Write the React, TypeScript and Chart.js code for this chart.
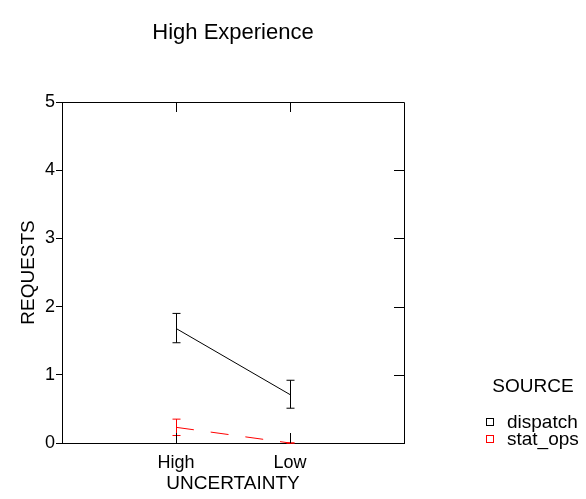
import React, { useEffect, useRef } from "react";
import { Chart, registerables } from "chart.js";

Chart.register(...registerables);

// ---- data ----
const categories = ["High", "Low"];
const categoryPositions = [1, 2];
const dispatchMeans = [1.68, 0.71];
const dispatchLower = [1.47, 0.51];
const dispatchUpper = [1.9, 0.92];
const statOpsMeans = [0.23, 0.0];
const statOpsLower = [0.11, 0.0];
const statOpsUpper = [0.35, 0.0];
const yTickValues = [0, 1, 2, 3, 4, 5];
const seriesNames = ["dispatch", "stat_ops"];
const seriesColors = ["#000000", "#ff0000"];
const chartTitle = "High Experience";
const xTitle = "UNCERTAINTY";
const yTitle = "REQUESTS";
const legendTitle = "SOURCE";

const FONT = "'Liberation Sans', Arial, Helvetica, sans-serif";

const errorBarPlugin = {
  id: "errorBars",
  afterDatasetsDraw(chart: any) {
    const ctx = chart.ctx;
    const xs = chart.scales.x;
    const ys = chart.scales.y;
    chart.data.datasets.forEach((ds: any) => {
      ctx.save();
      ctx.strokeStyle = ds.borderColor;
      ctx.lineWidth = 1;
      ctx.setLineDash([]);
      ds.data.forEach((pt: any, i: number) => {
        const x = Math.round(xs.getPixelForValue(pt.x)) + 0.5;
        const yl = ys.getPixelForValue(ds.errLow[i]);
        const yh = ys.getPixelForValue(ds.errHigh[i]);
        ctx.beginPath();
        ctx.moveTo(x, yl);
        ctx.lineTo(x, yh);
        ctx.moveTo(x - 4, yl);
        ctx.lineTo(x + 4, yl);
        ctx.moveTo(x - 4, yh);
        ctx.lineTo(x + 4, yh);
        ctx.stroke();
      });
      ctx.restore();
    });
  },
};

const decorPlugin = {
  id: "decor",
  afterDraw(chart: any) {
    const ctx = chart.ctx;
    const { left, right, top, bottom } = chart.chartArea;
    const xs = chart.scales.x;
    const ys = chart.scales.y;
    ctx.save();
    ctx.strokeStyle = "#000";
    ctx.lineWidth = 1;
    ctx.setLineDash([]);
    // top and right frame
    ctx.beginPath();
    ctx.moveTo(left, Math.round(top) + 0.5);
    ctx.lineTo(Math.round(right) + 0.5, Math.round(top) + 0.5);
    ctx.lineTo(Math.round(right) + 0.5, bottom);
    ctx.stroke();
    // right inward ticks
    ctx.beginPath();
    yTickValues.forEach((v) => {
      const y = Math.round(ys.getPixelForValue(v)) + 0.5;
      ctx.moveTo(right - 10, y);
      ctx.lineTo(right, y);
    });
    // top/bottom inward ticks
    categoryPositions.forEach((v) => {
      const x = Math.round(xs.getPixelForValue(v)) + 0.5;
      ctx.moveTo(x, top);
      ctx.lineTo(x, top + 10);
      ctx.moveTo(x, bottom - 10);
      ctx.lineTo(x, bottom);
    });
    ctx.stroke();

    // texts
    ctx.fillStyle = "#000";
    const cx = (left + right) / 2;
    ctx.textAlign = "center";
    ctx.textBaseline = "alphabetic";
    ctx.font = `22px ${FONT}`;
    ctx.fillText(chartTitle, cx, 39);
    ctx.font = `19px ${FONT}`;
    ctx.fillText(xTitle, cx, 489);
    ctx.save();
    ctx.translate(34, (top + bottom) / 2);
    ctx.rotate(-Math.PI / 2);
    ctx.fillText(yTitle, 0, 0);
    ctx.restore();

    // legend
    ctx.textAlign = "center";
    ctx.fillText(legendTitle, 533, 392);
    ctx.textAlign = "left";
    seriesNames.forEach((name, i) => {
      const y = 428 + i * 17;
      ctx.strokeStyle = seriesColors[i];
      ctx.strokeRect(486.5, y - 9.5, 7, 7);
      ctx.fillStyle = "#000";
      ctx.fillText(name, 507, y);
    });
    ctx.restore();
  },
};

export default function App() {
  const ref = useRef<HTMLCanvasElement | null>(null);
  useEffect(() => {
    if (!ref.current) return;
    const toPts = (vals: number[]) =>
      vals.map((v, i) => ({ x: categoryPositions[i], y: v }));
    const chart = new Chart(ref.current, {
      type: "line",
      data: {
        datasets: [
          {
            label: seriesNames[0],
            data: toPts(dispatchMeans),
            borderColor: seriesColors[0],
            backgroundColor: seriesColors[0],
            borderWidth: 1,
            pointRadius: 0,
            fill: false,
            tension: 0,
            errLow: dispatchLower,
            errHigh: dispatchUpper,
          } as any,
          {
            label: seriesNames[1],
            data: toPts(statOpsMeans),
            borderColor: seriesColors[1],
            backgroundColor: seriesColors[1],
            borderWidth: 1,
            borderDash: [18, 17],
            pointRadius: 0,
            fill: false,
            tension: 0,
            errLow: statOpsLower,
            errHigh: statOpsUpper,
          } as any,
        ],
      },
      options: {
        animation: false,
        responsive: false,
        events: [],
        layout: { padding: { top: 102, right: 182, left: 0, bottom: 0 } },
        plugins: {
          legend: { display: false },
          title: { display: false },
          tooltip: { enabled: false },
        },
        scales: {
          x: {
            type: "linear",
            min: 0,
            max: 3,
            afterBuildTicks: (scale: any) => {
              scale.ticks = categoryPositions.map((v) => ({ value: v }));
            },
            afterFit: (scale: any) => {
              scale.height = 56;
            },
            ticks: {
              autoSkip: false,
              maxRotation: 0,
              padding: 9,
              color: "#000",
              font: { family: FONT, size: 18 },
              callback: (v: any) => {
                const idx = categoryPositions.indexOf(Number(v));
                return idx >= 0 ? categories[idx] : "";
              },
            },
            grid: { display: true, drawOnChartArea: false, drawTicks: false },
            border: { display: true, color: "#000", width: 1 },
          },
          y: {
            type: "linear",
            min: 0,
            max: 5,
            afterBuildTicks: (scale: any) => {
              scale.ticks = yTickValues.map((v) => ({ value: v }));
            },
            afterFit: (scale: any) => {
              scale.width = 62;
            },
            ticks: {
              padding: 1,
              color: "#000",
              font: { family: FONT, size: 18 },
              callback: (v: any) => String(v),
            },
            grid: {
              display: true,
              drawOnChartArea: false,
              drawTicks: true,
              tickLength: 6,
              color: "#000",
            },
            border: { display: true, color: "#000", width: 1 },
          },
        },
      } as any,
      plugins: [errorBarPlugin, decorPlugin],
    });
    return () => chart.destroy();
  }, []);
  return (
    <div style={{ position: "absolute", left: 0, top: 0, width: 586, height: 499, background: "#fff" }}>
      <canvas ref={ref} width={586} height={499} />
    </div>
  );
}
